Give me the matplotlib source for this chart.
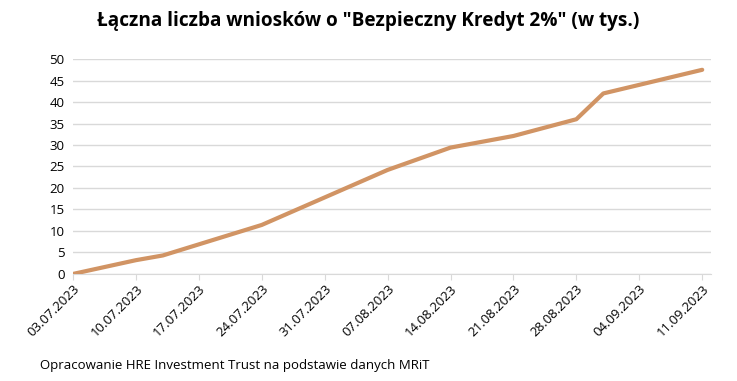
import pandas as pd
import matplotlib
matplotlib.use('Agg')
import matplotlib.pyplot as plt
import matplotlib.dates as mdates

plt.rcParams['font.family'] = ['Open Sans', 'DejaVu Sans']

# data (thousands of applications)
dates = ['2023-07-03', '2023-07-10', '2023-07-13', '2023-07-24', '2023-08-07',
         '2023-08-14', '2023-08-21', '2023-08-28', '2023-08-31', '2023-09-11']
values = [0, 3.2, 4.3, 11.4, 24.2, 29.4, 32.1, 36.0, 42.0, 47.5]
tick_dates = pd.date_range('2023-07-03', '2023-09-11', freq='7D')
title = 'Łączna liczba wniosków o "Bezpieczny Kredyt 2%" (w tys.)'
source = 'Opracowanie HRE Investment Trust na podstawie danych MRiT'

x = pd.to_datetime(dates)

fig = plt.figure(figsize=(7.37, 3.81), dpi=100)
ax = fig.add_axes([0.099, 0.281, 0.866, 0.564])

ax.plot(x, values, color='#D19464', linewidth=3, solid_capstyle='round', zorder=3)

ax.set_ylim(0, 50)
ax.set_yticks(range(0, 51, 5))
ax.set_xlim(tick_dates[0], tick_dates[-1] + pd.Timedelta(days=1))
ax.set_xticks(tick_dates)
ax.xaxis.set_major_formatter(mdates.DateFormatter('%d.%m.%Y'))
plt.setp(ax.get_xticklabels(), rotation=45, ha='right', rotation_mode='anchor')

ax.grid(axis='y', color='#D9D9D9', linewidth=1)
ax.set_axisbelow(True)
for s in ['top', 'right', 'left']:
    ax.spines[s].set_visible(False)
ax.spines['bottom'].set_color('#D9D9D9')
ax.tick_params(axis='y', length=0, labelsize=9.5, pad=6)
ax.tick_params(axis='x', length=4, color='#D9D9D9', labelsize=9.5, pad=2)

fig.text(0.5, 0.945, title, ha='center', va='center', fontsize=13.7, fontweight='bold')
fig.text(0.054, 0.04, source, ha='left', va='center', fontsize=9.5)

fig.savefig('out.png', dpi=100)
